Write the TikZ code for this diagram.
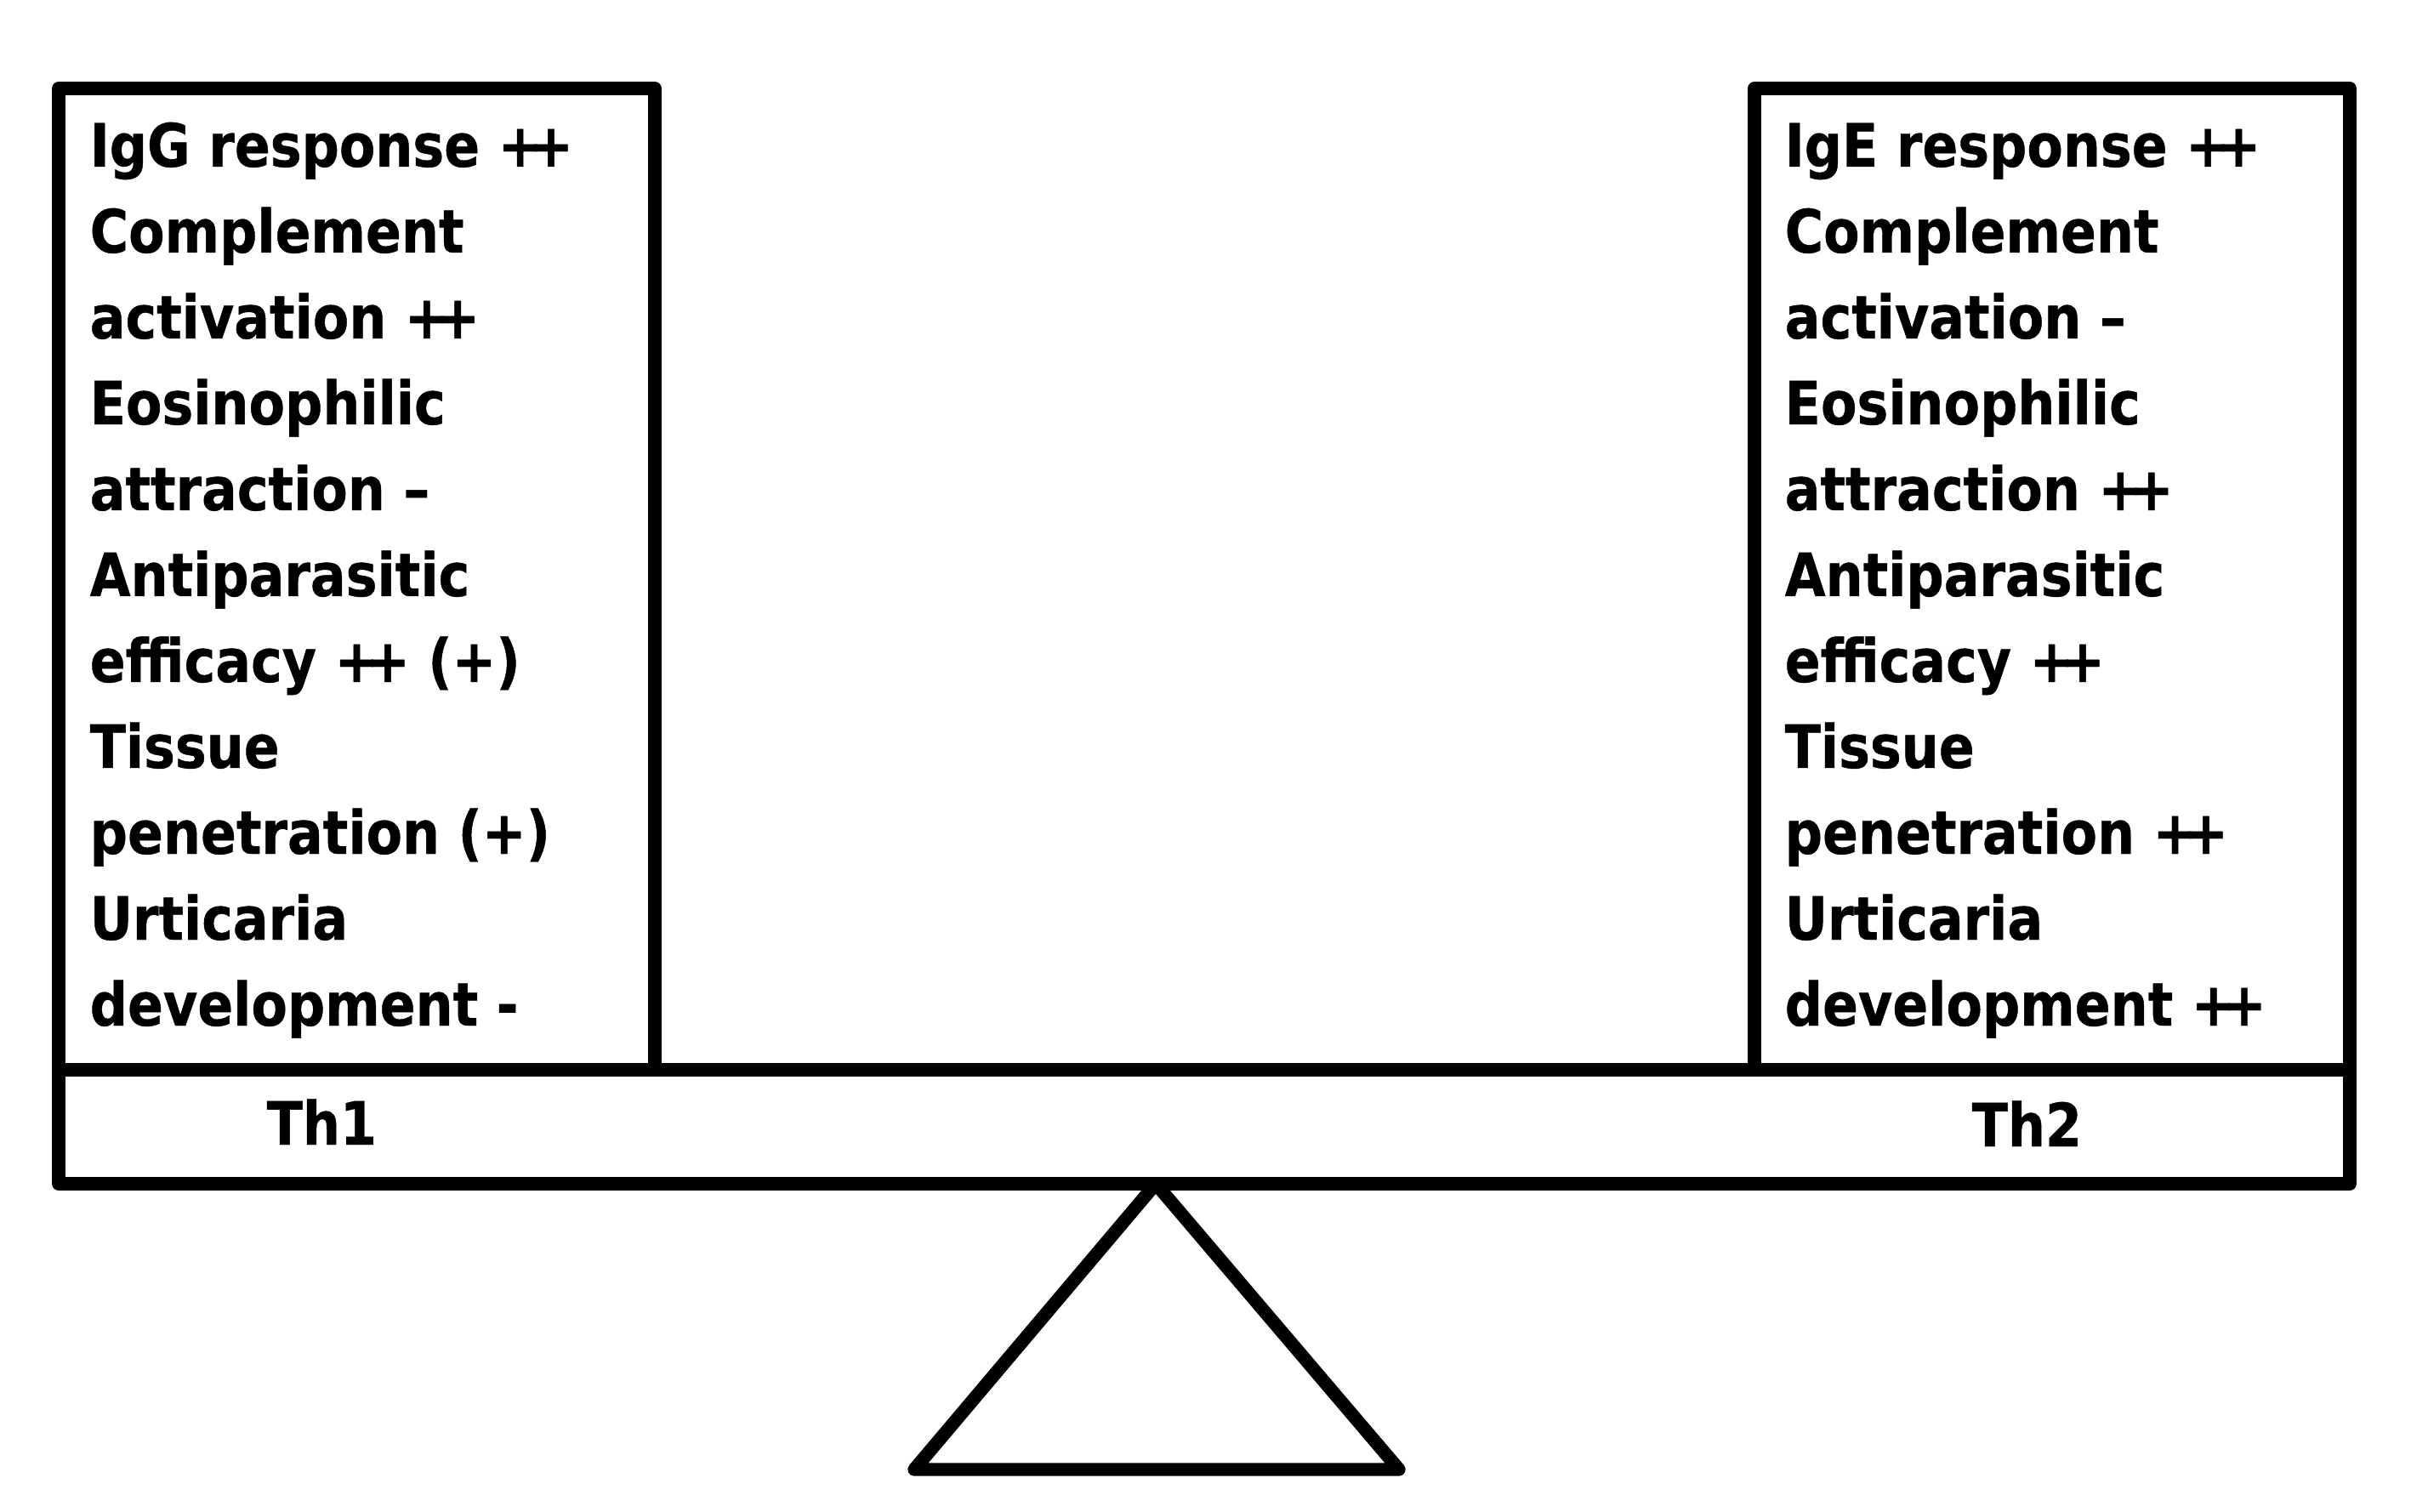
\documentclass[tikz,border=0pt]{standalone}
\usepackage{fontspec}
\setmainfont{DejaVu Sans}[FakeStretch=0.88, BoldFeatures={FakeBold=0.6}]
\newcommand\plusplus{+\kern-.22em+}
\begin{document}
\begin{tikzpicture}[line width=4.4pt, line join=round,
    panel/.style={draw, outer sep=0pt, inner sep=0pt, anchor=north west},
    item/.style={anchor=base west, inner sep=0pt, font=\bfseries\fontsize{20}{24}\selectfont}]

    \useasboundingbox[fill=white] (0,0) rectangle (28.35,17.77);

    % pans and beam
    \node[panel, minimum width=7.01cm, minimum height=11.54cm] (th1box) at (0.69,16.73) {};
    \node[panel, minimum width=7.00cm, minimum height=11.54cm] (th2box) at (20.63,16.73) {};
    \node[panel, minimum width=26.94cm, minimum height=1.34cm] (beam) at (0.69,5.19) {};

    % lists
    \foreach \txt [count=\i] in {IgG response \plusplus, Complement, activation \plusplus,
        Eosinophilic, attraction --, Antiparasitic, efficacy \plusplus{} (+), Tissue,
        penetration (+), Urticaria, development -}
      \node[item] (th1line\i) at (0.98,{16.82-1.01*\i}) {\txt};
    \foreach \txt [count=\i] in {IgE response \plusplus, Complement, activation --,
        Eosinophilic, attraction \plusplus, Antiparasitic, efficacy \plusplus, Tissue,
        penetration \plusplus, Urticaria, development \plusplus}
      \node[item] (th2line\i) at (20.91,{16.82-1.01*\i}) {\txt};

    \node[item] (th1) at (3.06,4.31) {Th1};
    \node[item] (th2) at (23.11,4.29) {Th2};

    % fulcrum
    \coordinate (pivot) at (13.59,3.85);
    \coordinate (footL) at (10.75,0.49);
    \coordinate (footR) at (16.45,0.49);
    \draw (pivot) -- (footL) -- (footR) -- cycle;
\end{tikzpicture}
\end{document}
